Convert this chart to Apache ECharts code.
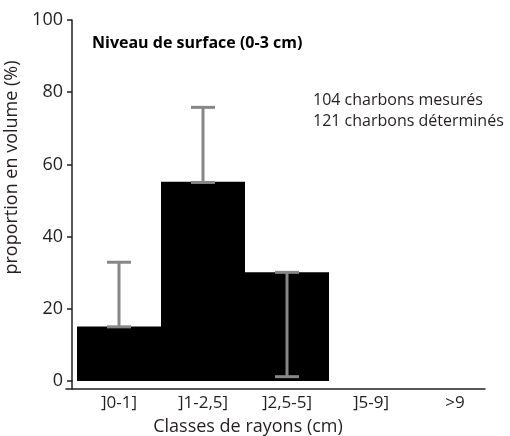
<!DOCTYPE html>
<html><head><meta charset="utf-8">
<script src="https://cdn.jsdelivr.net/npm/echarts@6/dist/echarts.min.js"></script>
<style>html,body{margin:0;padding:0;background:#fff}#c{width:510px;height:436px}</style>
</head><body><div id="c"></div>
<script>
const categories = [']0-1]', ']1-2,5]', ']2,5-5]', ']5-9]', '>9'];
const values = [15.1, 55.2, 30.1, 0, 0];
const errLow = [15.0, 55.0, 1.2, null, null];
const errHigh = [32.9, 75.8, 30.1, null, null];
const yTicks = { min: 0, max: 100, interval: 20 };

const errData = [];
for (let i = 0; i < categories.length; i++) {
  if (errLow[i] != null) errData.push([i, errLow[i], errHigh[i]]);
}
const FONT = 'Open Sans';
const chart = echarts.init(document.getElementById('c'));
chart.setOption({
  animation: false,
  textStyle: { fontFamily: FONT },
  grid: [
    { left: 77, width: 420, top: 20, height: 361, outerBoundsMode: 'none', containLabel: false },
    { left: 66, width: 419, top: 381, height: 8, outerBoundsMode: 'none', containLabel: false }
  ],
  xAxis: [
    {
      type: 'category', data: categories, gridIndex: 0,
      axisLine: { show: false }, axisTick: { show: false },
      axisLabel: { fontSize: 17, color: '#231f20', margin: 14, fontFamily: FONT },
      name: 'Classes de rayons (cm)', nameLocation: 'middle', nameGap: 37,
      nameTextStyle: { fontSize: 18, color: '#231f20', padding: [0, 78, 0, 0], fontFamily: FONT }
    },
    {
      type: 'value', gridIndex: 1, position: 'top', min: 0, max: 1,
      axisLine: { show: true, lineStyle: { color: '#231f20', width: 1.5 } },
      axisTick: { show: false }, axisLabel: { show: false }, splitLine: { show: false }
    }
  ],
  yAxis: [
    {
      type: 'value', gridIndex: 0, min: yTicks.min, max: yTicks.max, interval: yTicks.interval,
      offset: 5,
      axisLine: { show: true, lineStyle: { color: '#231f20', width: 1.5 } },
      axisTick: { show: true, length: 5, lineStyle: { color: '#231f20', width: 1.5 } },
      axisLabel: { fontSize: 18, color: '#231f20', margin: 9, fontFamily: FONT },
      splitLine: { show: false },
      name: 'proportion en volume (%)', nameLocation: 'middle', nameGap: 48,
      nameTextStyle: { fontSize: 18, color: '#231f20', fontFamily: FONT, padding: [0, 0, 0, 66] }
    },
    {
      type: 'value', gridIndex: 1, min: 0, max: 1, offset: -6,
      axisLine: { show: true, lineStyle: { color: '#231f20', width: 1.5 } },
      axisTick: { show: false }, axisLabel: { show: false }, splitLine: { show: false }
    }
  ],
  series: [
    {
      type: 'bar', data: values, xAxisIndex: 0, yAxisIndex: 0,
      barCategoryGap: '0%', itemStyle: { color: '#000' }, silent: true
    },
    {
      type: 'custom', xAxisIndex: 0, yAxisIndex: 0, data: errData, z: 10,
      renderItem: function (params, api) {
        const x = api.value(0);
        const lo = api.coord([x, api.value(1)]);
        const hi = api.coord([x, api.value(2)]);
        const half = 12;
        const st = { stroke: '#878787', lineWidth: 3 };
        return {
          type: 'group', children: [
            { type: 'line', shape: { x1: lo[0], y1: lo[1], x2: hi[0], y2: hi[1] }, style: st },
            { type: 'line', shape: { x1: lo[0] - half, y1: lo[1], x2: lo[0] + half, y2: lo[1] }, style: st },
            { type: 'line', shape: { x1: hi[0] - half, y1: hi[1], x2: hi[0] + half, y2: hi[1] }, style: st }
          ]
        };
      }
    }
  ],
  graphic: [
    { type: 'text', left: 92, top: 35, style: { text: 'Niveau de surface (0-3 cm)', font: 'bold 16px "Open Sans"', fill: '#000' } },
    { type: 'text', left: 313, top: 90, style: { text: '104 charbons mesurés\n121 charbons déterminés', font: '16px "Open Sans"', fill: '#231f20', lineHeight: 21 } }
  ]
});
</script></body></html>
